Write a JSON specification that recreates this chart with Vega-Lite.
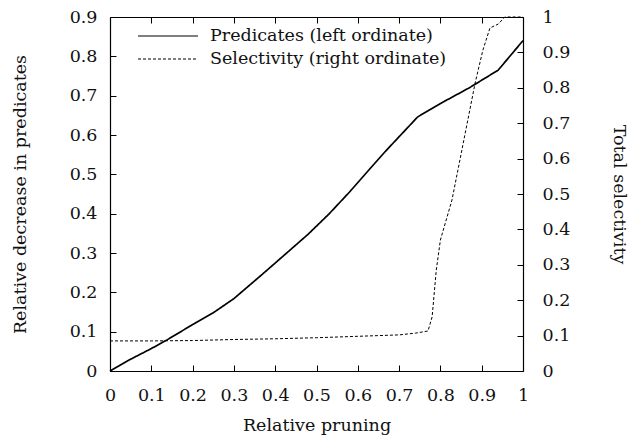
{
  "$schema": "https://vega.github.io/schema/vega-lite/v6.json",
  "width": 413,
  "height": 354,
  "autosize": "none",
  "padding": {"left": 110, "top": 17, "right": 114, "bottom": 69},
  "background": "white",
  "config": {
    "font": "DejaVu Serif",
    "view": {"stroke": null},
    "axis": {
      "domainColor": "#000",
      "domainWidth": 1.2,
      "tickColor": "#000",
      "tickWidth": 1,
      "tickSize": -6,
      "grid": false,
      "labelFont": "DejaVu Serif",
      "labelFontSize": 17.5,
      "labelColor": "#111",
      "titleFont": "DejaVu Serif",
      "titleFontSize": 17.5,
      "titleFontWeight": "normal",
      "titleColor": "#111",
      "labelFlush": false,
      "labelOverlap": false
    },
    "legend": {
      "labelFont": "DejaVu Serif",
      "labelFontSize": 17.5,
      "labelColor": "#111",
      "labelLimit": 0
    }
  },
  "datasets": {
    "pred": [
      {"x": 0, "v": 0, "series": "Predicates (left ordinate)"},
      {"x": 0.05, "v": 0.03, "series": "Predicates (left ordinate)"},
      {"x": 0.1, "v": 0.057, "series": "Predicates (left ordinate)"},
      {"x": 0.138, "v": 0.079, "series": "Predicates (left ordinate)"},
      {"x": 0.2, "v": 0.118, "series": "Predicates (left ordinate)"},
      {"x": 0.25, "v": 0.148, "series": "Predicates (left ordinate)"},
      {"x": 0.3, "v": 0.184, "series": "Predicates (left ordinate)"},
      {"x": 0.37, "v": 0.247, "series": "Predicates (left ordinate)"},
      {"x": 0.43, "v": 0.302, "series": "Predicates (left ordinate)"},
      {"x": 0.48, "v": 0.348, "series": "Predicates (left ordinate)"},
      {"x": 0.53, "v": 0.399, "series": "Predicates (left ordinate)"},
      {"x": 0.58, "v": 0.455, "series": "Predicates (left ordinate)"},
      {"x": 0.63, "v": 0.515, "series": "Predicates (left ordinate)"},
      {"x": 0.67, "v": 0.562, "series": "Predicates (left ordinate)"},
      {"x": 0.745, "v": 0.646, "series": "Predicates (left ordinate)"},
      {"x": 0.8, "v": 0.68, "series": "Predicates (left ordinate)"},
      {"x": 0.87, "v": 0.72, "series": "Predicates (left ordinate)"},
      {"x": 0.94, "v": 0.765, "series": "Predicates (left ordinate)"},
      {"x": 1, "v": 0.84, "series": "Predicates (left ordinate)"}
    ],
    "sel": [
      {"x": 0, "v": 0.085, "series": "Selectivity (right ordinate)"},
      {"x": 0.1, "v": 0.085, "series": "Selectivity (right ordinate)"},
      {"x": 0.2, "v": 0.086, "series": "Selectivity (right ordinate)"},
      {"x": 0.3, "v": 0.089, "series": "Selectivity (right ordinate)"},
      {"x": 0.4, "v": 0.091, "series": "Selectivity (right ordinate)"},
      {"x": 0.5, "v": 0.094, "series": "Selectivity (right ordinate)"},
      {"x": 0.6, "v": 0.098, "series": "Selectivity (right ordinate)"},
      {"x": 0.7, "v": 0.102, "series": "Selectivity (right ordinate)"},
      {"x": 0.74, "v": 0.107, "series": "Selectivity (right ordinate)"},
      {"x": 0.77, "v": 0.113, "series": "Selectivity (right ordinate)"},
      {"x": 0.78, "v": 0.153, "series": "Selectivity (right ordinate)"},
      {"x": 0.79, "v": 0.285, "series": "Selectivity (right ordinate)"},
      {"x": 0.8, "v": 0.37, "series": "Selectivity (right ordinate)"},
      {"x": 0.828, "v": 0.483, "series": "Selectivity (right ordinate)"},
      {"x": 0.852, "v": 0.624, "series": "Selectivity (right ordinate)"},
      {"x": 0.884, "v": 0.813, "series": "Selectivity (right ordinate)"},
      {"x": 0.903, "v": 0.907, "series": "Selectivity (right ordinate)"},
      {"x": 0.92, "v": 0.969, "series": "Selectivity (right ordinate)"},
      {"x": 0.94, "v": 0.98, "series": "Selectivity (right ordinate)"},
      {"x": 0.956, "v": 1.0, "series": "Selectivity (right ordinate)"},
      {"x": 1, "v": 1.0, "series": "Selectivity (right ordinate)"}
    ]
  },
  "layer": [
    {
      "data": {"name": "pred"},
      "mark": {"type": "line", "color": "#000", "strokeWidth": 1.7},
      "encoding": {
        "x": {
          "field": "x", "type": "quantitative",
          "scale": {"domain": [0, 1], "nice": false},
          "axis": {
            "orient": "bottom",
            "values": [0, 0.1, 0.2, 0.3, 0.4, 0.5, 0.6, 0.7, 0.8, 0.9, 1],
            "format": "~g",
            "labelPadding": 21,
            "title": "Relative pruning",
            "titlePadding": 13
          }
        },
        "y": {
          "field": "v", "type": "quantitative",
          "scale": {"domain": [0, 0.9], "nice": false},
          "axis": {
            "orient": "left",
            "values": [0, 0.1, 0.2, 0.3, 0.4, 0.5, 0.6, 0.7, 0.8, 0.9],
            "format": "~g",
            "labelPadding": 19,
            "title": "Relative decrease in predicates",
            "titlePadding": 40
          }
        },
        "strokeDash": {
          "field": "series", "type": "nominal",
          "scale": {
            "domain": ["Predicates (left ordinate)", "Selectivity (right ordinate)"],
            "range": [[1, 0], [3, 2]]
          },
          "legend": {
            "title": null,
            "orient": "none",
            "legendX": 47,
            "legendY": 8,
            "symbolType": "M-3,0H3",
            "symbolSize": 400,
            "symbolStrokeColor": "#000",
            "symbolStrokeWidth": 1.2,
            "labelOffset": 31,
            "rowPadding": 3,
            "padding": 0
          }
        }
      }
    },
    {
      "data": {"name": "sel"},
      "mark": {"type": "line", "color": "#000", "strokeWidth": 1},
      "encoding": {
        "x": {
          "field": "x", "type": "quantitative",
          "scale": {"domain": [0, 1], "nice": false},
          "axis": {
            "orient": "top",
            "values": [0, 0.1, 0.2, 0.3, 0.4, 0.5, 0.6, 0.7, 0.8, 0.9, 1],
            "labels": false,
            "title": null
          }
        },
        "y": {
          "field": "v", "type": "quantitative",
          "scale": {"domain": [0, 1], "nice": false},
          "axis": {
            "orient": "right",
            "values": [0, 0.1, 0.2, 0.3, 0.4, 0.5, 0.6, 0.7, 0.8, 0.9, 1],
            "format": "~g",
            "labelPadding": 25,
            "title": "Total selectivity",
            "titlePadding": 40
          }
        },
        "strokeDash": {
          "field": "series", "type": "nominal",
          "scale": {
            "domain": ["Predicates (left ordinate)", "Selectivity (right ordinate)"],
            "range": [[1, 0], [3, 2]]
          }
        }
      }
    }
  ],
  "resolve": {
    "scale": {"y": "independent"},
    "axis": {"x": "independent", "y": "independent"}
  }
}
